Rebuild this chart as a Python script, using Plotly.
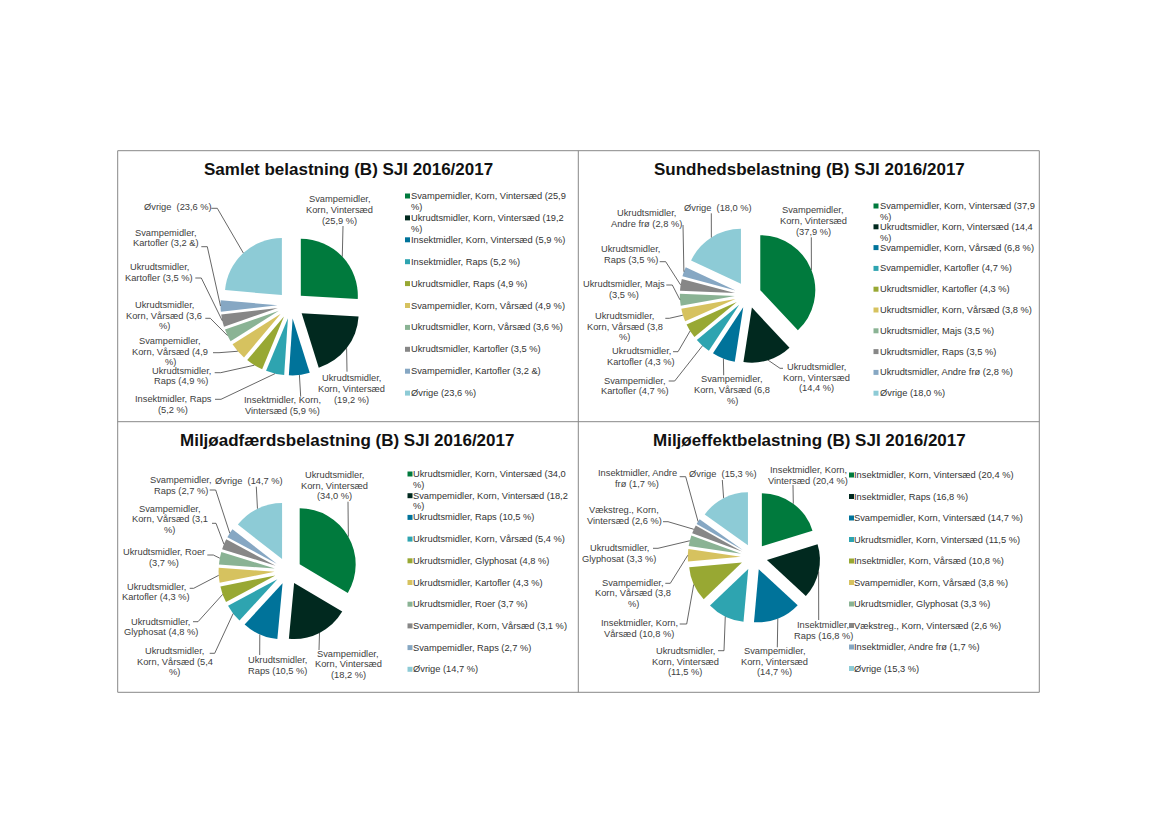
import math
import textwrap
import plotly.graph_objects as go

W, H = 1169, 827
FONT = "Arial, 'Liberation Sans', sans-serif"

# ---------------- data ----------------
titles = [
    "Samlet belastning (B) SJI 2016/2017",
    "Sundhedsbelastning (B) SJI 2016/2017",
    "Miljøadfærdsbelastning (B) SJI 2016/2017",
    "Miljøeffektbelastning (B) SJI 2016/2017",
]

cats1 = ["Svampemidler, Korn, Vintersæd", "Ukrudtsmidler, Korn, Vintersæd",
         "Insektmidler, Korn, Vintersæd", "Insektmidler, Raps", "Ukrudtsmidler, Raps",
         "Svampemidler, Korn, Vårsæd", "Ukrudtsmidler, Korn, Vårsæd",
         "Ukrudtsmidler, Kartofler", "Svampemidler, Kartofler", "Øvrige"]
vals1 = [25.9, 19.2, 5.9, 5.2, 4.9, 4.9, 3.6, 3.5, 3.2, 23.6]
units1 = ["%", "%", "%", "%", "%", "%", "%", "%", "&", "%"]

cats2 = ["Svampemidler, Korn, Vintersæd", "Ukrudtsmidler, Korn, Vintersæd",
         "Svampemidler, Korn, Vårsæd", "Svampemidler, Kartofler",
         "Ukrudtsmidler, Kartofler", "Ukrudtsmidler, Korn, Vårsæd",
         "Ukrudtsmidler, Majs", "Ukrudtsmidler, Raps", "Ukrudtsmidler, Andre frø", "Øvrige"]
vals2 = [37.9, 14.4, 6.8, 4.7, 4.3, 3.8, 3.5, 3.5, 2.8, 18.0]
units2 = ["%"] * 10

cats3 = ["Ukrudtsmidler, Korn, Vintersæd", "Svampemidler, Korn, Vintersæd",
         "Ukrudtsmidler, Raps", "Ukrudtsmidler, Korn, Vårsæd", "Ukrudtsmidler, Glyphosat",
         "Ukrudtsmidler, Kartofler", "Ukrudtsmidler, Roer", "Svampemidler, Korn, Vårsæd",
         "Svampemidler, Raps", "Øvrige"]
vals3 = [34.0, 18.2, 10.5, 5.4, 4.8, 4.3, 3.7, 3.1, 2.7, 14.7]
units3 = ["%"] * 10

cats4 = ["Insektmidler, Korn, Vintersæd", "Insektmidler, Raps",
         "Svampemidler, Korn, Vintersæd", "Ukrudtsmidler, Korn, Vintersæd",
         "Insektmidler, Korn, Vårsæd", "Svampemidler, Korn, Vårsæd",
         "Ukrudtsmidler, Glyphosat", "Vækstreg., Korn, Vintersæd",
         "Insektmidler, Andre frø", "Øvrige"]
vals4 = [20.4, 16.8, 14.7, 11.5, 10.8, 3.8, 3.3, 2.6, 1.7, 15.3]
units4 = ["%"] * 10

COLORS = ["#007A3D", "#01291F", "#00739A", "#2EA4B0", "#98A833",
          "#D6C25F", "#8AB394", "#878787", "#86A7C3", "#8DCBD6"]

# ---------------- layout (positions / styles) ----------------
# label: (text cx, text cy, wrap width, leader start x, leader start y, horizontal stub)
panels = [
    dict(cats=cats1, vals=vals1, units=units1, title=titles[0], tx=348, ty=169,
         cx=291, cy=305, r=57, pull=0.237,
         labels=[(339.7, 210, 15, 343, 226, 0), (351.3, 389, 15, 347, 371.7, 0),
                 (282.3, 405.8, 19, 300.7, 396.7, 0), (173.3, 404.3, 18, 215, 399.3, 6),
                 (181.3, 376, 14, 214.7, 372.7, 6), (170.3, 351.7, 17, 213, 352.7, 6),
                 (164, 315.7, 17, 205.3, 318.3, 5), (159.3, 272.7, 17, 195.3, 278, 6),
                 (166.3, 238, 17, 201.3, 246.7, 6), (177.7, 206.7, None, 211.3, 208.3, 6)],
         leg_mx=407.5, leg_tx=411, leg_y0=196, leg_dy=21.9, leg_wrap=37),
    dict(cats=cats2, vals=vals2, units=units2, title=titles[1], tx=809, ty=169,
         cx=748, cy=295, r=55, pull=0.24,
         labels=[(813, 221, 15, 811.3, 237.3, 0), (816.3, 377.7, 15, 783, 368.3, -3),
                 (732.3, 390, 17, 723.7, 375.3, 0), (634.7, 386, 17, 668.7, 381, 6),
                 (641.3, 356.7, 17, 673, 351.7, 5), (624.7, 326.7, 17, 665.3, 318.3, 4),
                 (623.7, 289.3, 19, 666.3, 285, 6), (630.7, 254.7, 14, 659.7, 261.7, 6),
                 (646.3, 218.7, 17, 683, 225, 0), (718, 208.3, None, 711.3, 213.3, 0)],
         leg_mx=876, leg_tx=880, leg_y0=206, leg_dy=20.8, leg_wrap=37),
    dict(cats=cats3, vals=vals3, units=units3, title=titles[2], tx=347, ty=440,
         cx=288, cy=571, r=56, pull=0.24,
         labels=[(334.7, 485.7, 15, 348, 501.7, 0), (348, 664.3, 15, 319, 650, 0),
                 (277.3, 665.3, 14, 259.7, 655, 0), (174.7, 661.7, 17, 209.7, 653.3, 5),
                 (160.7, 627, 17, 193, 621.7, 5), (156.3, 592, 17, 189.7, 588.3, 4),
                 (163.7, 557.3, 20, 207.3, 555, 6), (169.7, 519.3, 17, 212, 523.3, 4),
                 (181.3, 485.3, 14, 209.7, 490, 6), (248.7, 481, None, 256.3, 486.7, 0)],
         leg_mx=410, leg_tx=413, leg_y0=474, leg_dy=21.7, leg_wrap=37),
    dict(cats=cats4, vals=vals4, units=units4, title=titles[3], tx=809.5, ty=440,
         cx=754, cy=557, r=53, pull=0.25,
         labels=[(808, 475.3, 19, 793, 485, 0), (823, 630.3, 14, 818.7, 620, 0),
                 (774.7, 661.7, 15, 777.3, 647.3, 0), (685.3, 661.7, 15, 718, 650.7, 6),
                 (639, 628.3, 19, 679.7, 624, 7), (633, 593.3, 17, 665.3, 583.3, 5),
                 (619, 553.7, 17, 653, 548.3, 5), (624.3, 515.3, 17, 663, 521.7, 5),
                 (637, 478.7, 19, 679.7, 476.7, 6), (722.7, 474, None, 722.3, 480, 0)],
         leg_mx=851.5, leg_tx=854, leg_y0=475, leg_dy=21.5, leg_wrap=None),
]

LABEL_FS = 9.3
LEG_FS = 9.3
LINE_GAP = 10.7
LABEL_COLOR = "#404040"
LEG_COLOR = "#333333"
LINE_COLOR = "#404040"


def fmt(v):
    return f"{v:.1f}".replace(".", ",")


def wrap(text, width):
    if width is None:
        return [text]
    return textwrap.wrap(text, width=width, break_long_words=False, break_on_hyphens=False)


fig = go.Figure()
shapes = []
annotations = []

# panel frame
X0, Y0, XM, YM, X1, Y1 = 117.7, 150.7, 578.3, 421.7, 1039.3, 692.3
shapes.append(dict(type="rect", xref="x", yref="y", x0=X0, y0=Y0, x1=X1, y1=Y1,
                   line=dict(color="#888888", width=1), layer="below"))
shapes.append(dict(type="line", xref="x", yref="y", x0=XM, y0=Y0, x1=XM, y1=Y1,
                   line=dict(color="#888888", width=1), layer="below"))
shapes.append(dict(type="line", xref="x", yref="y", x0=X0, y0=YM, x1=X1, y1=YM,
                   line=dict(color="#888888", width=1), layer="below"))


def add_text_lines(lines, x, y_center, xanchor, fs, color, first_line_at=None):
    n = len(lines)
    for j, ln in enumerate(lines):
        if first_line_at is None:
            yy = y_center + (j - (n - 1) / 2) * LINE_GAP
        else:
            yy = first_line_at + j * LINE_GAP
        annotations.append(dict(x=x, y=yy, xref="x", yref="y", text=ln,
                                showarrow=False, xanchor=xanchor, yanchor="middle",
                                borderpad=0, borderwidth=0,
                                font=dict(family=FONT, size=fs, color=color)))


for p in panels:
    cats, vals, units = p["cats"], p["vals"], p["units"]
    cx, cy, r, pull = p["cx"], p["cy"], p["r"], p["pull"]
    side = 2 * r * (1 + pull)
    fig.add_trace(go.Pie(
        labels=cats, values=vals, sort=False, direction="clockwise", rotation=0,
        pull=pull, textinfo="none",
        marker=dict(colors=COLORS, line=dict(width=0)),
        hovertemplate="%{label}: %{value} %<extra></extra>",
        showlegend=False,
        domain=dict(x=[(cx - side / 2) / W, (cx + side / 2) / W],
                    y=[1 - (cy + side / 2) / H, 1 - (cy - side / 2) / H]),
    ))

    # title
    annotations.append(dict(x=p["tx"], y=p["ty"], xref="x", yref="y",
                            text=f"<b>{p['title']}</b>",
                            showarrow=False, xanchor="center", yanchor="middle",
                            font=dict(family=FONT, size=17, color="#111111")))

    total = sum(vals)
    cum = 0.0
    for i, (c, v, u) in enumerate(zip(cats, vals, units)):
        mid = 2 * math.pi * (cum + v / 2) / total
        cum += v
        ax = cx + (1 + pull) * r * math.sin(mid)
        ay = cy - (1 + pull) * r * math.cos(mid)
        tx, ty, ww, sx, sy, hs = p["labels"][i]
        sep = "  " if c == "Øvrige" else " "
        text = f"{c}{sep}({fmt(v)} {u})"
        add_text_lines(wrap(text, ww), tx, ty, "center", LABEL_FS, LABEL_COLOR)
        shapes.append(dict(type="path", xref="x", yref="y",
                           path=f"M{sx},{sy} L{sx + hs},{sy} L{ax:.2f},{ay:.2f}",
                           line=dict(color=LINE_COLOR, width=0.8), layer="above"))

    # legend
    ys = [p["leg_y0"] + k * p["leg_dy"] for k in range(len(cats))]
    fig.add_trace(go.Scatter(
        x=[p["leg_mx"]] * len(cats), y=ys, mode="markers",
        marker=dict(symbol="square", size=5, color=COLORS, line=dict(width=0)),
        hoverinfo="skip", showlegend=False, cliponaxis=False,
    ))
    for k, (c, v, u) in enumerate(zip(cats, vals, units)):
        text = f"{c} ({fmt(v)} {u})"
        add_text_lines(wrap(text, p["leg_wrap"]), p["leg_tx"], None, "left",
                       LEG_FS, LEG_COLOR, first_line_at=ys[k])

fig.update_layout(
    width=W, height=H, margin=dict(l=0, r=0, t=0, b=0),
    paper_bgcolor="white", plot_bgcolor="white", showlegend=False,
    xaxis=dict(range=[0, W], visible=False, fixedrange=True),
    yaxis=dict(range=[H, 0], visible=False, fixedrange=True),
    shapes=shapes, annotations=annotations,
)

fig.write_html("out.html", config={"displayModeBar": False},
               post_script="document.body.style.margin='0';document.body.style.overflow='hidden';")
